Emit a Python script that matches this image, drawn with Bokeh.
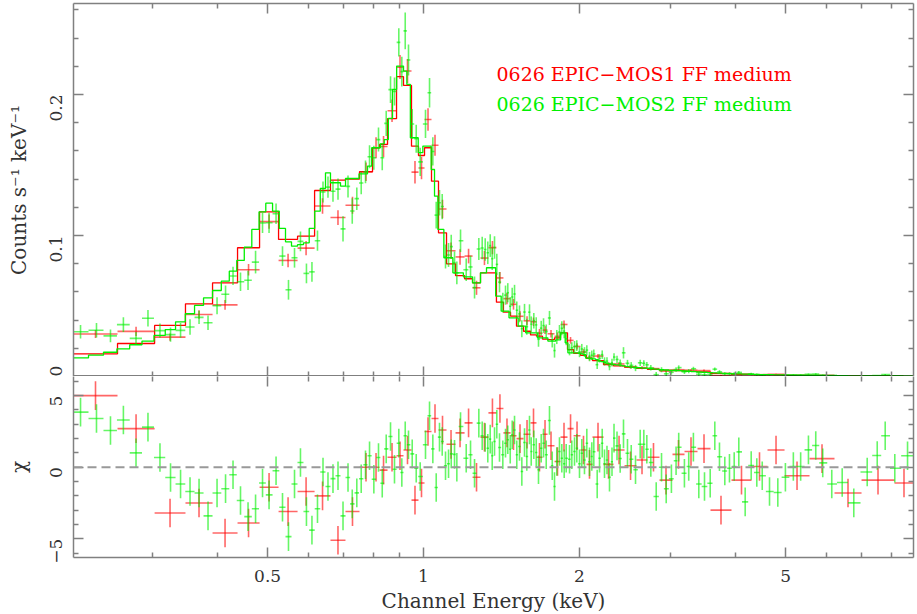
import math
import numpy as np
from bokeh.plotting import figure
from bokeh.layouts import column
from bokeh.models import (Range1d, LogAxis, LinearAxis, FixedTicker, NumeralTickFormatter,
                          CustomJSTickFormatter, Span, Label, ColumnDataSource)
from bokeh.embed import file_html
from bokeh.resources import INLINE

# ---------------- axis limits ----------------
E_LO, E_HI = 0.211, 8.83
RATE_MAX = 0.2645
CHI_LO, CHI_HI = -6.31, 6.34

# ---------------- MOS1 (red) : bin edges (keV) ----------------
mos1_edges = [0.211, 0.2566, 0.3026, 0.3471, 0.3915, 0.4375, 0.4825, 0.5250, 0.5713, 0.6162,
              0.6613, 0.7069, 0.7524, 0.7972, 0.8225, 0.8522, 0.8870, 0.9149, 0.9480, 0.9779,
              1.0045, 1.0362, 1.0689, 1.1077, 1.1530, 1.2002, 1.2437, 1.2882, 1.3346, 1.3829,
              1.4266, 1.4723, 1.5119, 1.5600, 1.6092, 1.6524, 1.6973, 1.7356, 1.7901, 1.8386,
              1.8967, 1.9486, 2.0094, 2.0638, 2.1195, 2.2260, 2.3274, 2.4441, 2.5779, 2.7066,
              2.8548, 3.0247, 3.1906, 3.3805, 3.5814, 3.9318, 4.2975, 4.6143, 4.9774, 5.5620,
              6.2150, 7.0084, 8.1144, 8.83]
mos1_rate = [0.0301, 0.0320, 0.0279, 0.0440, 0.0508, 0.0757, 0.1098, 0.0823, 0.0910, 0.1209,
             0.1127, 0.1214, 0.1452, 0.1622, 0.1631, 0.1884, 0.2194, 0.2166, 0.1449, 0.1479,
             0.1822, 0.1640, 0.1188, 0.0892, 0.0848, 0.0854, 0.0629, 0.0840, 0.0914, 0.0699,
             0.0552, 0.0512, 0.0427, 0.0395, 0.0388, 0.0307, 0.0329, 0.0303, 0.0285, 0.0369,
             0.0256, 0.0213, 0.0174, 0.0132, 0.0145, 0.0088, 0.0089, 0.0067, 0.0062, 0.0056,
             0.0038, 0.0048, 0.0045, 0.0042, 0.0007, 0.0012, 0.0013, 0.0016, 0.0006, 0.0008,
             0.0000, 0.0002, 0.0001]
mos1_err = [0.0028, 0.0032, 0.0026, 0.0030, 0.0034, 0.0040, 0.0050, 0.0048, 0.0050, 0.0055,
            0.0052, 0.0060, 0.0065, 0.0075, 0.0075, 0.0080, 0.0085, 0.0085, 0.0080, 0.0080,
            0.0080, 0.0075, 0.0065, 0.0058, 0.0055, 0.0052, 0.0050, 0.0050, 0.0047, 0.0042,
            0.0040, 0.0038, 0.0035, 0.0032, 0.0030, 0.0030, 0.0028, 0.0027, 0.0028, 0.0028,
            0.0024, 0.0022, 0.0020, 0.0018, 0.0015, 0.0013, 0.0012, 0.0011, 0.0010, 0.0009,
            0.0008, 0.0008, 0.0007, 0.0007, 0.0005, 0.0004, 0.0004, 0.0004, 0.0003, 0.0003,
            0.0003, 0.0002, 0.0002]
mos1_model = [0.0161, 0.0234, 0.0362, 0.0515, 0.0664, 0.0913, 0.1168, 0.0972, 0.0995, 0.1319,
              0.1392, 0.1400, 0.1452, 0.1622, 0.1646, 0.1828, 0.2126, 0.2064, 0.1633, 0.1567,
              0.1622, 0.1385, 0.1019, 0.0799, 0.0716, 0.0693, 0.0664, 0.0735, 0.0735, 0.0527,
              0.0456, 0.0428, 0.0357, 0.0321, 0.0295, 0.0286, 0.0265, 0.0262, 0.0274, 0.0310,
              0.0191, 0.0165, 0.0150, 0.0128, 0.0113, 0.0085, 0.0075, 0.0066, 0.0057, 0.0050,
              0.0045, 0.0041, 0.0037, 0.0033, 0.0022, 0.0016, 0.0013, 0.0011, 0.0008, 0.0006,
              0.0005, 0.0004, 0.0003]
mos1_chi = [5.0, 2.7, -3.2, -2.5, -4.6, -3.9, -1.4, -3.1, -1.7, -2.0,
            -5.1, -3.1, 0.0, 0.0, -0.2, 0.7, 0.8, 1.2, -2.3, -1.1,
            2.5, 3.4, 2.6, 1.6, 2.4, 3.1, -0.7, 2.1, 3.8, 4.1,
            2.4, 2.2, 2.0, 2.3, 3.1, 0.7, 2.3, 1.5, 0.4, 2.1,
            2.7, 2.2, 1.2, 0.2, 2.1, 0.2, 1.2, 0.1, 0.5, 0.7,
            -0.9, 0.9, 1.1, 1.3, -3.0, -0.9, 0.05, 1.2, -0.6, 0.6,
            -1.8, -0.9, -1.1]

# ---------------- MOS2 (green) : bin centres (keV) ----------------
mos2_energy = [0.2177, 0.2337, 0.2487, 0.2634, 0.2786, 0.2938, 0.3099, 0.3248, 0.3396, 0.3542,
               0.3687, 0.3837, 0.3994, 0.4148, 0.4288, 0.4433, 0.4584, 0.4740, 0.4889, 0.5033,
               0.5192, 0.5343, 0.5487, 0.5636, 0.5787, 0.5943, 0.6090, 0.6242, 0.6397, 0.6540,
               0.6687, 0.6838, 0.6992, 0.7149, 0.7285, 0.7434, 0.7581, 0.7727, 0.7867, 0.8019,
               0.8187, 0.8324, 0.8472, 0.8636, 0.8790, 0.8960, 0.9081, 0.9219, 0.9355, 0.9510,
               0.9681, 0.9854, 1.0089, 1.0271, 1.0423, 1.0581, 1.0737, 1.0867, 1.1028, 1.1177,
               1.1311, 1.1478, 1.1597, 1.1789, 1.2091, 1.2325, 1.2546, 1.2788, 1.2981, 1.3156,
               1.3308, 1.3452, 1.3571, 1.3712, 1.3852, 1.4019, 1.4227, 1.4398, 1.4545, 1.4703,
               1.4832, 1.4987, 1.5139, 1.5322, 1.5482, 1.5668, 1.5828, 1.6019, 1.6141, 1.6328,
               1.6505, 1.6672, 1.6874, 1.7049, 1.7254, 1.7507, 1.7722, 1.7902, 1.8085, 1.8303,
               1.8493, 1.8690, 1.8858, 1.9139, 1.9334, 1.9567, 1.9766, 2.0006, 2.0210, 2.0454,
               2.0667, 2.0916, 2.1129, 2.1319, 2.1642, 2.1868, 2.2131, 2.2357, 2.2605, 2.2860,
               2.3115, 2.3323, 2.3636, 2.3971, 2.4328, 2.4763, 2.5177, 2.5663, 2.6201, 2.6627,
               2.6985, 2.7469, 2.8134, 2.8808, 2.9413, 3.0102, 3.0733, 3.1095, 3.1894, 3.2510,
               3.3193, 3.4000, 3.4873, 3.5767, 3.6508, 3.7273, 3.8166, 3.8966, 3.9792, 4.0616,
               4.1783, 4.2916, 4.3997, 4.5073, 4.6559, 4.8306, 4.9966, 5.1761, 5.3470, 5.5355,
               5.7183, 5.8989, 6.1400, 6.4313, 6.7717, 7.1876, 7.5147, 7.7862, 8.1256, 8.5993]
mos2_rate = [0.0317, 0.0328, 0.0288, 0.0368, 0.0270, 0.0413, 0.0325, 0.0297, 0.0327, 0.0351,
             0.0419, 0.0381, 0.0502, 0.0583, 0.0713, 0.0672, 0.0682, 0.0811, 0.1089, 0.1090,
             0.1154, 0.0854, 0.0615, 0.0842, 0.0958, 0.0731, 0.0742, 0.0963, 0.1308, 0.1343,
             0.1314, 0.1329, 0.1047, 0.1348, 0.1174, 0.1261, 0.1372, 0.1451, 0.1558, 0.1551,
             0.1680, 0.1551, 0.1795, 0.2034, 0.2021, 0.2369, 0.2162, 0.2451, 0.2244, 0.1791,
             0.1686, 0.1522, 0.1791, 0.2012, 0.1596, 0.1144, 0.1232, 0.1205, 0.0851, 0.0862,
             0.0921, 0.0807, 0.0735, 0.0963, 0.0757, 0.0777, 0.0631, 0.0904, 0.0911, 0.0901,
             0.0877, 0.0928, 0.0835, 0.0915, 0.0795, 0.0669, 0.0524, 0.0577, 0.0594, 0.0498,
             0.0564, 0.0585, 0.0470, 0.0444, 0.0339, 0.0457, 0.0353, 0.0456, 0.0371, 0.0396,
             0.0366, 0.0264, 0.0343, 0.0361, 0.0318, 0.0415, 0.0256, 0.0184, 0.0280, 0.0315,
             0.0342, 0.0322, 0.0267, 0.0190, 0.0203, 0.0212, 0.0219, 0.0174, 0.0195, 0.0173,
             0.0187, 0.0141, 0.0151, 0.0160, 0.0084, 0.0129, 0.0155, 0.0107, 0.0109, 0.0071,
             0.0098, 0.0138, 0.0121, 0.0095, 0.0168, 0.0094, 0.0079, 0.0060, 0.0097, 0.0094,
             0.0083, 0.0062, 0.0013, 0.0048, 0.0019, 0.0030, 0.0049, 0.0063, 0.0033, 0.0038,
             0.0055, 0.0016, 0.0012, 0.0013, 0.0052, 0.0033, 0.0019, 0.0020, 0.0020, 0.0029,
             -0.0007, 0.0017, 0.0012, 0.0009, -0.0001, -0.0002, 0.0006, 0.0010, 0.0009, 0.0015,
             0.0017, 0.0009, 0.0001, 0.0001, -0.0007, 0.0004, 0.0007, 0.0013, 0.0004, 0.0005]
mos2_err = [0.0048, 0.0052, 0.0045, 0.0052, 0.0045, 0.0058, 0.0050, 0.0050, 0.0052, 0.0055,
            0.0047, 0.0052, 0.0060, 0.0062, 0.0065, 0.0065, 0.0068, 0.0080, 0.0072, 0.0072,
            0.0072, 0.0070, 0.0070, 0.0070, 0.0070, 0.0070, 0.0070, 0.0072, 0.0075, 0.0075,
            0.0075, 0.0075, 0.0089, 0.0078, 0.0090, 0.0080, 0.0080, 0.0080, 0.0082, 0.0085,
            0.0085, 0.0088, 0.0090, 0.0095, 0.0100, 0.0100, 0.0105, 0.0130, 0.0110, 0.0105,
            0.0100, 0.0100, 0.0100, 0.0105, 0.0100, 0.0095, 0.0090, 0.0090, 0.0085, 0.0085,
            0.0085, 0.0080, 0.0080, 0.0080, 0.0080, 0.0080, 0.0078, 0.0078, 0.0080, 0.0080,
            0.0080, 0.0080, 0.0080, 0.0080, 0.0075, 0.0072, 0.0070, 0.0068, 0.0068, 0.0065,
            0.0065, 0.0065, 0.0062, 0.0060, 0.0060, 0.0058, 0.0057, 0.0056, 0.0055, 0.0055,
            0.0054, 0.0053, 0.0052, 0.0052, 0.0051, 0.0050, 0.0050, 0.0050, 0.0050, 0.0050,
            0.0050, 0.0050, 0.0045, 0.0040, 0.0040, 0.0040, 0.0038, 0.0037, 0.0036, 0.0035,
            0.0034, 0.0033, 0.0033, 0.0032, 0.0031, 0.0030, 0.0030, 0.0029, 0.0028, 0.0027,
            0.0027, 0.0026, 0.0026, 0.0025, 0.0040, 0.0024, 0.0023, 0.0022, 0.0022, 0.0021,
            0.0020, 0.0020, 0.0019, 0.0018, 0.0018, 0.0017, 0.0016, 0.0016, 0.0015, 0.0015,
            0.0014, 0.0014, 0.0013, 0.0013, 0.0012, 0.0012, 0.0011, 0.0011, 0.0010, 0.0010,
            0.0010, 0.0009, 0.0009, 0.0009, 0.0008, 0.0008, 0.0007, 0.0007, 0.0007, 0.0006,
            0.0006, 0.0006, 0.0005, 0.0005, 0.0005, 0.0004, 0.0004, 0.0004, 0.0004, 0.0003]
mos2_model = [0.0132, 0.0151, 0.0172, 0.0196, 0.0225, 0.0251, 0.0291, 0.0333, 0.0388, 0.0445,
              0.0504, 0.0558, 0.0610, 0.0676, 0.0747, 0.0823, 0.0917, 0.1043, 0.1168, 0.1229,
              0.1172, 0.1050, 0.0955, 0.0924, 0.0935, 0.0948, 0.1050, 0.1172, 0.1333, 0.1444,
              0.1374, 0.1374, 0.1350, 0.1404, 0.1404, 0.1404, 0.1437, 0.1437, 0.1492, 0.1622,
              0.1622, 0.1650, 0.1680, 0.1830, 0.2035, 0.2201, 0.2201, 0.2165, 0.2071, 0.1693,
              0.1693, 0.1587, 0.1634, 0.1634, 0.1468, 0.1279, 0.1043, 0.1043, 0.0842, 0.0842,
              0.0842, 0.0735, 0.0735, 0.0735, 0.0707, 0.0707, 0.0664, 0.0664, 0.0735, 0.0735,
              0.0771, 0.0771, 0.0771, 0.0771, 0.0570, 0.0570, 0.0463, 0.0463, 0.0463, 0.0416,
              0.0416, 0.0416, 0.0416, 0.0357, 0.0357, 0.0357, 0.0310, 0.0310, 0.0310, 0.0310,
              0.0310, 0.0274, 0.0274, 0.0274, 0.0274, 0.0251, 0.0251, 0.0251, 0.0260, 0.0260,
              0.0310, 0.0310, 0.0239, 0.0168, 0.0168, 0.0168, 0.0168, 0.0165, 0.0160, 0.0155,
              0.0130, 0.0128, 0.0126, 0.0125, 0.0120, 0.0110, 0.0105, 0.0100, 0.0095, 0.0090,
              0.0088, 0.0085, 0.0082, 0.0080, 0.0075, 0.0070, 0.0066, 0.0064, 0.0062, 0.0060,
              0.0058, 0.0055, 0.0052, 0.0048, 0.0046, 0.0044, 0.0042, 0.0041, 0.0039, 0.0037,
              0.0035, 0.0032, 0.0030, 0.0028, 0.0026, 0.0024, 0.0022, 0.0021, 0.0019, 0.0018,
              0.0017, 0.0016, 0.0015, 0.0014, 0.0013, 0.0012, 0.0011, 0.0010, 0.0009, 0.0008,
              0.0008, 0.0007, 0.0007, 0.0006, 0.0005, 0.0005, 0.0004, 0.0004, 0.0004, 0.0003]
mos2_chi = [3.85, 3.4, 2.57, 3.3, 1.0, 2.8, 0.68, -0.72, -1.17, -1.7,
            -1.8, -3.4, -1.8, -1.5, -0.53, -2.33, -3.45, -2.9, -1.1, -1.93,
            -0.25, -2.8, -4.85, -1.17, 0.33, -3.1, -4.4, -2.9, -0.33, -1.35,
            -0.8, -0.6, -3.4, -0.72, -2.56, -1.79, -0.81, 0.17, 0.8, -0.84,
            0.68, -1.12, 1.28, 2.15, -0.14, 1.68, -0.37, 2.2, 1.57, 0.93,
            -0.07, -0.65, 1.57, 3.6, 1.28, -1.42, 2.1, 1.8, 0.1, 0.24,
            0.93, 0.9, 0.0, 2.85, 0.63, 0.87, -0.42, 3.08, 2.2, 2.08,
            1.33, 1.96, 0.8, 1.8, 3.0, 1.38, 0.87, 1.68, 1.92, 1.26,
            2.27, 2.6, 0.87, 1.45, -0.3, 1.73, 0.75, 2.6, 1.1, 1.57,
            1.03, -0.18, 1.33, 1.68, 0.87, 3.27, 0.1, -1.35, 0.4, 1.1,
            0.63, 0.24, 0.63, 0.56, 0.87, 1.1, 1.33, 0.24, 0.98, 0.5,
            1.68, 0.38, 0.75, 1.08, -1.17, 0.63, 1.68, 0.24, 0.5, -0.7,
            0.38, 2.03, 1.49, 0.61, 2.33, 0.98, 0.56, -0.18, 1.61, 1.61,
            1.26, 0.33, -2.05, 0.0, -1.51, -0.81, 0.45, 1.4, -0.42, 0.05,
            1.4, -1.17, -1.35, -1.12, 2.2, 0.73, -0.26, -0.07, 0.05, 1.07,
            -2.42, 0.12, -0.37, -0.6, -1.7, -1.77, -0.7, 0.05, 0.05, 1.21,
            1.52, 0.3, -1.17, -1.07, -2.49, -0.33, 0.82, 2.2, -0.07, 0.8]

labels_text = ["0626 EPIC\u2212MOS1 FF medium", "0626 EPIC\u2212MOS2 FF medium"]

# ---------------- tick positions ----------------
X_MAJOR = [0.5, 1, 2, 5]
X_MINOR = [0.3, 0.4, 0.6, 0.7, 0.8, 0.9, 3, 4, 6, 7, 8]
Y1_MAJOR = [0, 0.1, 0.2]
Y1_MINOR = [0.02, 0.04, 0.06, 0.08, 0.12, 0.14, 0.16, 0.18, 0.22, 0.24, 0.26]
Y2_MAJOR = [-5, 0, 5]
Y2_MINOR = [-6, -4, -3, -2, -1, 1, 2, 3, 4, 6]

# ---------------- styling ----------------
RED = "#ff0000"
GREEN = "#00f000"
GREY = "#808080"
TXT = "#333333"
FONT = "DejaVu Serif"
TICK_FS = "17px"
TITLE_FS = "20px"


def red_bins():
    e = np.asarray(mos1_edges)
    return e, e[:-1], e[1:], np.sqrt(e[:-1] * e[1:])


def green_bins():
    c = np.asarray(mos2_energy)
    e = np.concatenate([[E_LO], np.sqrt(c[:-1] * c[1:]), [E_HI]])
    return e, e[:-1], e[1:], c


def draw_crosses(p, lo, hi, ctr, y, err, color):
    y = np.asarray(y, dtype=float)
    err = np.asarray(err, dtype=float)
    src = ColumnDataSource(dict(lo=lo, hi=hi, ctr=ctr, y=y, ylo=y - err, yhi=y + err))
    p.segment(x0="lo", y0="y", x1="hi", y1="y", source=src,
              line_color=color, line_width=1.6, line_alpha=0.6)
    p.segment(x0="ctr", y0="ylo", x1="ctr", y1="yhi", source=src,
              line_color=color, line_width=1.6, line_alpha=0.6)


def style_axis(ax, labels, line_color=GREY, line_width=1.5):
    ax.major_tick_in = 10
    ax.major_tick_out = 0
    ax.minor_tick_in = 5
    ax.minor_tick_out = 0
    ax.major_tick_line_color = GREY
    ax.minor_tick_line_color = GREY
    ax.major_tick_line_width = 1.5
    ax.minor_tick_line_width = 1.5
    ax.axis_line_color = line_color
    ax.axis_line_width = line_width
    ax.major_label_text_font = FONT
    ax.major_label_text_color = TXT
    ax.axis_label_text_font = FONT
    ax.axis_label_text_font_style = "normal"
    ax.axis_label_text_color = TXT
    ax.axis_label_text_font_size = TITLE_FS
    if labels:
        ax.major_label_text_font_size = TICK_FS
    else:
        ax.major_label_text_font_size = "0px"
        ax.major_label_standoff = 0
        ax.major_label_text_alpha = 0


def x_axis(labels, **kw):
    ax = LogAxis(ticker=FixedTicker(ticks=X_MAJOR, minor_ticks=X_MINOR),
                 formatter=NumeralTickFormatter(format="0.[0]"), **kw)
    style_axis(ax, labels)
    return ax


def make_fig(yr, fh, top):
    p = figure(x_axis_type="log", x_range=x_range, y_range=yr,
               frame_width=840, frame_height=fh,
               x_axis_location=None, y_axis_location=None,
               output_backend="svg", toolbar_location=None,
               min_border_left=73, min_border_right=2,
               min_border_top=top, min_border_bottom=0,
               outline_line_color=None)
    p.grid.visible = False
    return p


x_range = Range1d(E_LO, E_HI)

# ================= upper panel =================
p1 = make_fig(Range1d(0, RATE_MAX), 373, 3)

ax = x_axis(False)
p1.add_layout(ax, "above")
ax = x_axis(False)
style_axis(ax, False, line_color="#000000", line_width=2)
p1.add_layout(ax, "below")

yl = LinearAxis(ticker=FixedTicker(ticks=Y1_MAJOR, minor_ticks=Y1_MINOR),
                formatter=NumeralTickFormatter(format="0.[0]"),
                axis_label="Counts s\u207b\u00b9 keV\u207b\u00b9")
style_axis(yl, True)
yl.major_label_orientation = math.pi / 2
yl.major_label_standoff = 17
yl.axis_label_standoff = 11
p1.add_layout(yl, "left")
yr_ax = LinearAxis(ticker=FixedTicker(ticks=Y1_MAJOR, minor_ticks=Y1_MINOR))
style_axis(yr_ax, False)
p1.add_layout(yr_ax, "right")

e, lo, hi, ctr = red_bins()
draw_crosses(p1, lo, hi, ctr, mos1_rate, mos1_err, RED)
p1.step(x=e, y=np.append(mos1_model, mos1_model[-1]), mode="after",
        line_color=RED, line_width=1.3)
e2, lo2, hi2, ctr2 = green_bins()
draw_crosses(p1, lo2, hi2, ctr2, mos2_rate, mos2_err, GREEN)
p1.step(x=e2, y=np.append(mos2_model, mos2_model[-1]), mode="after",
        line_color=GREEN, line_width=1.3)

for txt, col, yv in [(labels_text[0], RED, 0.2142), (labels_text[1], GREEN, 0.1929)]:
    p1.add_layout(Label(x=1.383, y=yv, text=txt, text_color=col,
                        text_font=FONT, text_font_size="19px",
                        text_baseline="middle", text_align="left"))

# ================= lower panel =================
p2 = make_fig(Range1d(CHI_LO, CHI_HI), 181, 0)

ax = x_axis(False)
ax.axis_line_color = None
p2.add_layout(ax, "above")
xb = x_axis(True, axis_label="Channel Energy (keV)")
xb.major_label_standoff = 12
xb.axis_label_standoff = 4
p2.add_layout(xb, "below")

yl2 = LinearAxis(ticker=FixedTicker(ticks=Y2_MAJOR, minor_ticks=Y2_MINOR),
                 formatter=CustomJSTickFormatter(
                     code="return tick < 0 ? '\u2212' + Math.abs(tick) : String(tick);"),
                 axis_label="\u03c7")
style_axis(yl2, True)
yl2.major_label_orientation = math.pi / 2
yl2.major_label_standoff = 17
yl2.axis_label_standoff = 11
p2.add_layout(yl2, "left")
yr2 = LinearAxis(ticker=FixedTicker(ticks=Y2_MAJOR, minor_ticks=Y2_MINOR))
style_axis(yr2, False)
p2.add_layout(yr2, "right")

p2.add_layout(Span(location=0, dimension="width", line_color="#999999",
                   line_dash="9 5", line_width=2))

draw_crosses(p2, lo, hi, ctr, mos1_chi, np.ones(len(mos1_chi)), RED)
draw_crosses(p2, lo2, hi2, ctr2, mos2_chi, np.ones(len(mos2_chi)), GREEN)

layout = column(p1, p2, spacing=0)
open("out.html", "w").write(file_html(layout, INLINE, title="EPIC MOS spectrum"))
